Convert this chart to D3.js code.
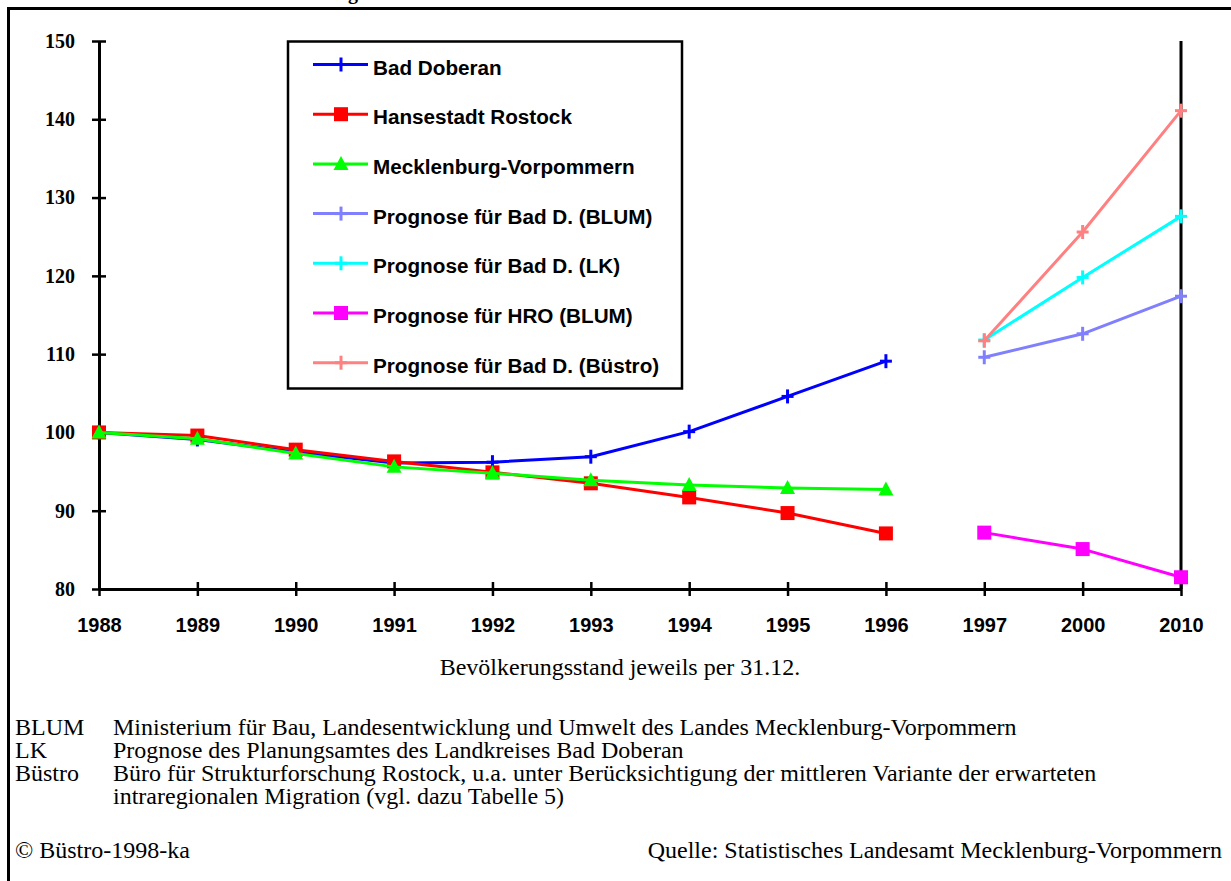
<!DOCTYPE html>
<html>
<head>
<meta charset="utf-8">
<script src="https://cdn.jsdelivr.net/npm/d3@7"></script>
<style>
  body { margin: 0; background: #fff; }
  svg { display: block; }
</style>
</head>
<body>
<div id="chart"></div>
<script>
// categories on the x axis
const years = ["1988", "1989", "1990", "1991", "1992", "1993", "1994", "1995", "1996", "1997", "2000", "2010"];
const histYears = ["1988", "1989", "1990", "1991", "1992", "1993", "1994", "1995", "1996"];
const progYears = ["1997", "2000", "2010"];
const yTicks = [80, 90, 100, 110, 120, 130, 140, 150];

// index values (1988 = 100)
const badDoberan = [100, 99.1, 97.5, 96.1, 96.2, 96.9, 100.1, 104.6, 109.1];
const rostock    = [100, 99.6, 97.8, 96.3, 94.9, 93.5, 91.7, 89.7, 87.1];
const mv         = [100, 99.2, 97.3, 95.6, 94.8, 93.9, 93.3, 92.9, 92.7];
const progBlum   = [109.6, 112.6, 117.4];
const progLK     = [111.8, 119.8, 127.6];
const progHRO    = [87.2, 85.1, 81.5];
const progBuestro = [111.7, 125.6, 141.1];

const series = [
  { name: "Bad Doberan", x: histYears, v: badDoberan, color: "#0000ff", marker: "plus" },
  { name: "Hansestadt Rostock", x: histYears, v: rostock, color: "#ff0000", marker: "square" },
  { name: "Mecklenburg-Vorpommern", x: histYears, v: mv, color: "#00ff00", marker: "triangle" },
  { name: "Prognose für Bad D. (BLUM)", x: progYears, v: progBlum, color: "#8080ff", marker: "plus" },
  { name: "Prognose für Bad D. (LK)", x: progYears, v: progLK, color: "#00ffff", marker: "plus" },
  { name: "Prognose für HRO (BLUM)", x: progYears, v: progHRO, color: "#ff00ff", marker: "square" },
  { name: "Prognose für Bad D. (Büstro)", x: progYears, v: progBuestro, color: "#ff8080", marker: "plus" }
];

const W = 1231, H = 881;
const sans = "'Liberation Sans', Arial, sans-serif";
const serif = "'Liberation Serif', 'Times New Roman', serif";

const svg = d3.select("#chart").append("svg").attr("width", W).attr("height", H);
svg.append("rect").attr("width", W).attr("height", H).attr("fill", "#fff");

// outer frame (only top and left visible) and the clipped title above it
svg.append("path").attr("d", "M8.5," + (H + 5) + "V8.5H" + (W + 5))
  .attr("fill", "none").attr("stroke", "#000").attr("stroke-width", 3);
svg.append("text").attr("x", 358).attr("y", -1).attr("text-anchor", "end")
  .attr("font-family", serif).attr("font-weight", "bold").attr("font-size", 20)
  .text("Abbildung");

const xScale = d3.scalePoint().domain(years).range([99, 1181]);
const yScale = d3.scaleLinear().domain([80, 150]).range([589, 41]);

// right border line of plot
svg.append("line").attr("x1", xScale("2010")).attr("x2", xScale("2010"))
  .attr("y1", yScale(150)).attr("y2", yScale(80)).attr("stroke", "#000").attr("stroke-width", 3);

// axes
const xAxis = svg.append("g").attr("transform", "translate(0," + yScale(80) + ")")
  .call(d3.axisBottom(xScale).tickSizeInner(7).tickSizeOuter(0).tickPadding(22));
const yAxis = svg.append("g").attr("transform", "translate(" + xScale("1988") + ",0)")
  .call(d3.axisLeft(yScale).tickValues(yTicks).tickSizeInner(7).tickSizeOuter(0).tickPadding(17));

[xAxis, yAxis].forEach(a => {
  a.select(".domain").attr("stroke", "#000").attr("stroke-width", 3);
  a.selectAll(".tick line").attr("stroke", "#000").attr("stroke-width", 2.5);
});
xAxis.selectAll(".tick line").attr("y1", -7);
yAxis.selectAll(".tick line").attr("x1", 7);
xAxis.selectAll(".tick text").attr("font-family", sans).attr("font-weight", "bold")
  .attr("font-size", 20).attr("fill", "#000").attr("dy", "0.71em");
yAxis.selectAll(".tick text").attr("font-family", serif).attr("font-weight", "bold")
  .attr("font-size", 20).attr("fill", "#000");

function drawMarker(g, type, color, x, y) {
  if (type === "plus") {
    g.append("line").attr("x1", x).attr("x2", x).attr("y1", y - 7).attr("y2", y + 7)
      .attr("stroke", color).attr("stroke-width", 3);
    g.append("line").attr("x1", x - 6).attr("x2", x + 6).attr("y1", y).attr("y2", y)
      .attr("stroke", color).attr("stroke-width", 3);
  } else if (type === "square") {
    g.append("rect").attr("x", x - 7).attr("y", y - 7).attr("width", 14).attr("height", 14)
      .attr("fill", color);
  } else {
    g.append("path").attr("d", "M" + x + "," + (y - 8) + "L" + (x + 7.5) + "," + (y + 6) + "L" + (x - 7.5) + "," + (y + 6) + "Z")
      .attr("fill", color);
  }
}

const line = d3.line().x(d => xScale(d[0])).y(d => yScale(d[1]));
const plot = svg.append("g");
series.forEach(s => {
  const pts = s.x.map((yr, i) => [yr, s.v[i]]);
  const g = plot.append("g");
  g.append("path").datum(pts).attr("d", line).attr("fill", "none")
    .attr("stroke", s.color).attr("stroke-width", 3).attr("stroke-linejoin", "round");
  pts.forEach(p => drawMarker(g, s.marker, s.color, xScale(p[0]), yScale(p[1])));
});

// legend
const leg = svg.append("g");
leg.append("rect").attr("x", 288).attr("y", 41.5).attr("width", 394).attr("height", 347)
  .attr("fill", "#fff").attr("stroke", "#000").attr("stroke-width", 2.5);
series.forEach((s, i) => {
  const ly = 64.5 + i * 49.7;
  leg.append("line").attr("x1", 313).attr("x2", 368).attr("y1", ly).attr("y2", ly)
    .attr("stroke", s.color).attr("stroke-width", 3);
  drawMarker(leg, s.marker, s.color, 341, ly);
  leg.append("text").attr("x", 373).attr("y", ly + 10).attr("font-family", sans)
    .attr("font-weight", "bold").attr("font-size", 20.7).attr("fill", "#000").text(s.name);
});

// notes
const notes = svg.append("g").attr("font-family", serif).attr("font-size", 24).attr("fill", "#000");
notes.append("text").attr("x", 620).attr("y", 675).attr("text-anchor", "middle")
  .text("Bevölkerungsstand jeweils per 31.12.");
const abbr = [
  ["BLUM", "Ministerium für Bau, Landesentwicklung und Umwelt des Landes Mecklenburg-Vorpommern"],
  ["LK", "Prognose des Planungsamtes des Landkreises Bad Doberan"],
  ["Büstro", "Büro für Strukturforschung Rostock, u.a. unter Berücksichtigung der mittleren Variante der erwarteten"],
  ["", "intraregionalen Migration (vgl. dazu Tabelle 5)"]
];
abbr.forEach((a, i) => {
  const y = 735 + i * 23;
  notes.append("text").attr("x", 15).attr("y", y).text(a[0]);
  notes.append("text").attr("x", 113).attr("y", y).text(a[1]);
});
notes.append("text").attr("x", 15).attr("y", 858).text("© Büstro-1998-ka");
notes.append("text").attr("x", 1222).attr("y", 858).attr("text-anchor", "end")
  .text("Quelle: Statistisches Landesamt Mecklenburg-Vorpommern");
</script>
</body>
</html>
